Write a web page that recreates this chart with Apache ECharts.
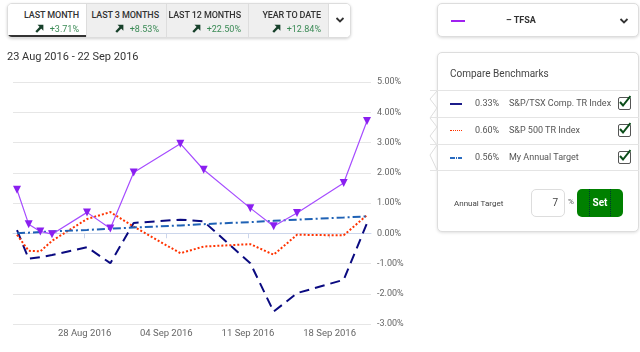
<!DOCTYPE html>
<html><head><meta charset="utf-8">
<script src="https://cdn.jsdelivr.net/npm/echarts@6/dist/echarts.min.js"></script>
<style>
*{box-sizing:border-box;margin:0;padding:0}
body{width:640px;height:352px;background:#fff;font-family:Roboto,"Open Sans",sans-serif;position:relative;overflow:hidden;color:#333}
#chart{position:absolute;left:0;top:0;width:420px;height:352px}
.abs{position:absolute}
#tabs{left:7px;top:3px;width:344px;height:35px;border:1px solid #ddd;border-radius:5px;box-shadow:0 1px 3px rgba(0,0,0,0.18);overflow:hidden;background:#fff}
.tab{position:absolute;top:0;height:100%;background:#efefef;border-left:1px solid #ddd;text-align:right;padding-right:7px}
.tab .t{font-size:9px;font-weight:500;color:#333;line-height:9px;margin-top:7px;letter-spacing:-0.1px}
.tab .v{font-size:9px;color:#3a8a55;line-height:9px;margin-top:4px}
.tab .v svg{margin-right:6px;vertical-align:-1px}
#dd1{left:437px;top:3px;width:202px;height:34px;border:1px solid #ddd;border-radius:5px;box-shadow:0 1px 3px rgba(0,0,0,0.15);background:#fff}
#panel{left:437px;top:52px;width:202px;height:180px;border:1px solid #ddd;border-radius:5px;box-shadow:0 1px 3px rgba(0,0,0,0.12);background:#fff}
.row{position:absolute;left:430px;width:209px;height:27px;font-size:9px;color:#555}
.chk{position:absolute;left:188px;top:6px;width:13px;height:13px;border:1.5px solid #555;border-radius:2px;background:#fff}
</style></head><body>
<div id="chart"></div>

<div id="tabs" class="abs">
  <div class="tab" style="left:0;width:78px;background:#fff;border-left:none;border-bottom:2px solid #333"><div class="t">LAST MONTH</div><div class="v"><svg width="9" height="9"><path d="M1.2 8 L6 3.2" stroke="#17402a" stroke-width="2.4"/><path d="M2.5 0.8 L8.4 0.8 L8.4 6.7 Z" fill="#17402a"/></svg>+3.71%</div></div>
  <div class="tab" style="left:78px;width:80px"><div class="t">LAST 3 MONTHS</div><div class="v"><svg width="9" height="9"><path d="M1.2 8 L6 3.2" stroke="#17402a" stroke-width="2.4"/><path d="M2.5 0.8 L8.4 0.8 L8.4 6.7 Z" fill="#17402a"/></svg>+8.53%</div></div>
  <div class="tab" style="left:158px;width:82px"><div class="t">LAST 12 MONTHS</div><div class="v"><svg width="9" height="9"><path d="M1.2 8 L6 3.2" stroke="#17402a" stroke-width="2.4"/><path d="M2.5 0.8 L8.4 0.8 L8.4 6.7 Z" fill="#17402a"/></svg>+22.50%</div></div>
  <div class="tab" style="left:240px;width:80px"><div class="t">YEAR TO DATE</div><div class="v"><svg width="9" height="9"><path d="M1.2 8 L6 3.2" stroke="#17402a" stroke-width="2.4"/><path d="M2.5 0.8 L8.4 0.8 L8.4 6.7 Z" fill="#17402a"/></svg>+12.84%</div></div>
  <div class="tab" style="left:320px;width:24px;background:#fff"><svg width="10" height="8" style="position:absolute;left:6px;top:12px"><path d="M1.5 2 L5 5.5 L8.5 2" stroke="#333" stroke-width="1.8" fill="none"/></svg></div>
</div>

<div class="abs" style="left:7px;top:50px;font-size:11px;color:#333">23 Aug 2016 - 22 Sep 2016</div>

<div id="dd1" class="abs">
  <div class="abs" style="left:13px;top:16px;width:14px;height:2px;background:#a020f0"></div>
  <div class="abs" style="left:68px;top:11px;font-size:9px;font-weight:700;color:#333">&#8211; TFSA</div>
  <svg class="abs" width="10" height="8" style="left:181px;top:13px"><path d="M1.5 2 L5 5.5 L8.5 2" stroke="#333" stroke-width="1.8" fill="none"/></svg>
</div>

<div id="panel" class="abs">
  <div class="abs" style="left:12px;top:15px;font-size:10px;color:#444">Compare Benchmarks</div>
  <div class="abs" style="left:16px;top:146px;font-size:8px;color:#444">Annual Target</div>
  <div class="abs" style="left:93px;top:136px;width:34px;height:28px;border:1px solid #ddd;border-radius:5px;font-size:10px;color:#444;text-align:right;padding-right:6px;line-height:26px">7</div>
  <div class="abs" style="left:130px;top:144px;font-size:8px;color:#555">%</div>
  <div class="abs" style="left:139px;top:136px;width:46px;height:28px;border-radius:5px;background:#008000;color:#fff;font-size:10px;font-weight:700;text-align:center;line-height:28px"><span style="border-left:1px dotted #033;border-right:1px dotted #033;padding:8px 3px">Set</span></div>
</div>

<svg class="abs" style="left:428px;top:89px" width="14" height="84">
  <path d="M9 2 L2 10 L9 19 L2 29 L9 38 L2 47 L9 56 L2 66 L9 81" stroke="#ddd" fill="none"/>
</svg>
<div class="row" style="top:90px;border-top:1px solid #e4e4e4">
  <div class="abs" style="left:20px;top:12px;width:12px;height:2px;background:#1c1c8a"></div>
  <div class="abs" style="left:45px;top:7px">0.33%</div>
  <div class="abs" style="left:79px;top:7px">S&amp;P/TSX Comp. TR Index</div>
  <div class="chk"><svg width="13" height="13" style="position:absolute;left:-1px;top:-3px"><path d="M2 7 L5 10.5 L12.5 1" stroke="#0b4d1a" stroke-width="2" fill="none"/></svg></div>
</div>
<div class="row" style="top:117px;border-top:1px solid #e4e4e4">
  <div class="abs" style="left:20px;top:12px;width:12px;height:0;border-top:1.5px dotted #ff3300"></div>
  <div class="abs" style="left:45px;top:7px">0.60%</div>
  <div class="abs" style="left:79px;top:7px">S&amp;P 500 TR Index</div>
  <div class="chk"><svg width="13" height="13" style="position:absolute;left:-1px;top:-3px"><path d="M2 7 L5 10.5 L12.5 1" stroke="#0b4d1a" stroke-width="2" fill="none"/></svg></div>
</div>
<div class="row" style="top:144px;border-top:1px solid #e4e4e4;border-bottom:1px solid #e4e4e4">
  <div class="abs" style="left:20px;top:12px;width:12px;height:2px;background:linear-gradient(90deg,#2a6bbf 0 5px,#fff 5px 6px,#2a6bbf 6px 7px,#fff 7px 8px,#2a6bbf 8px 12px)"></div>
  <div class="abs" style="left:45px;top:7px">0.56%</div>
  <div class="abs" style="left:79px;top:7px">My Annual Target</div>
  <div class="chk"><svg width="13" height="13" style="position:absolute;left:-1px;top:-3px"><path d="M2 7 L5 10.5 L12.5 1" stroke="#0b4d1a" stroke-width="2" fill="none"/></svg></div>
</div>

<script>
// ---- data ----
var dates = ['2016-08-23','2016-08-24','2016-08-25','2016-08-26','2016-08-29','2016-08-31','2016-09-02','2016-09-06','2016-09-08','2016-09-12','2016-09-14','2016-09-16','2016-09-20','2016-09-22'];
var tfsa   = [1.44, 0.30, 0.06, -0.03, 0.69, 0.16, 2.01, 2.96, 2.10, 0.83, 0.23, 0.67, 1.66, 3.71];
var tsx    = [0.10, -0.84, -0.79, -0.72, -0.46, -0.99, 0.34, 0.45, 0.39, -0.99, -2.59, -1.98, -1.54, 0.33];
var sp500  = [-0.05, -0.58, -0.60, -0.25, 0.47, 0.70, 0.22, -0.66, -0.44, -0.36, -0.71, -0.05, -0.07, 0.60];
var target = [0.00, 0.02, 0.04, 0.06, 0.11, 0.15, 0.19, 0.26, 0.30, 0.37, 0.41, 0.45, 0.52, 0.56];
var xTickDates = ['2016-08-28','2016-09-04','2016-09-11','2016-09-18'];
var xTickLabels = ['28 Aug 2016','04 Sep 2016','11 Sep 2016','18 Sep 2016'];
var yTicks = [-3, -2, -1, 0, 1, 2, 3, 4, 5];

var DAY = 86400000;
var t0 = Date.parse(dates[0]);
function dayIdx(s){ return (Date.parse(s) - t0) / DAY; }
var TICK_SHIFT = 0.8;
var xs = dates.map(dayIdx);
var tickVals = xTickDates.map(function(d){ return dayIdx(d) + TICK_SHIFT; });
function pts(arr){ return arr.map(function(v,i){ return [xs[i], v]; }); }

var chart = echarts.init(document.getElementById('chart'), null, {renderer:'canvas'});
chart.setOption({
  animation:false,
  grid:{left:13, right:49, top:82, bottom:28},
  xAxis:{
    type:'value', min:-0.343, max:30.343,
    splitLine:{show:false},
    axisLine:{show:true, lineStyle:{color:'#ccd6eb'}},
    axisTick:{show:true, customValues:tickVals, length:5, lineStyle:{color:'#ccd6eb'}},
    axisLabel:{customValues:tickVals, margin:5, fontSize:9.5, color:'#666', fontFamily:'Roboto',
      formatter:function(v){ var i=tickVals.indexOf(v); return i>=0? xTickLabels[i] : ''; }}
  },
  yAxis:{
    type:'value', position:'right', min:yTicks[0], max:yTicks[yTicks.length-1], interval:1,
    axisLine:{show:false}, axisTick:{show:false},
    splitLine:{lineStyle:{color:'#e6e6e6'}},
    axisLabel:{margin:6, fontSize:9, color:'#666', fontFamily:'Roboto', formatter:function(v){ return v.toFixed(2)+'%'; }}
  },
  series:[
    {type:'line', data:pts(tsx), symbol:'none', lineStyle:{color:'#0a0a80', width:2, type:[10,6]}, z:2},
    {type:'line', data:pts(sp500), symbol:'none', lineStyle:{color:'#ff3300', width:2, type:[2,2]}, z:3},
    {type:'line', data:pts(target), symbol:'none', lineStyle:{color:'#1f62b5', width:2, type:[8,3,2,3]}, z:4},
    {type:'line', data:pts(tfsa), symbol:'triangle', symbolRotate:180, symbolSize:8,
      itemStyle:{color:'#8a1ff0'}, lineStyle:{color:'#a64dff', width:1.2}, z:5}
  ]
});
</script>
</body></html>
